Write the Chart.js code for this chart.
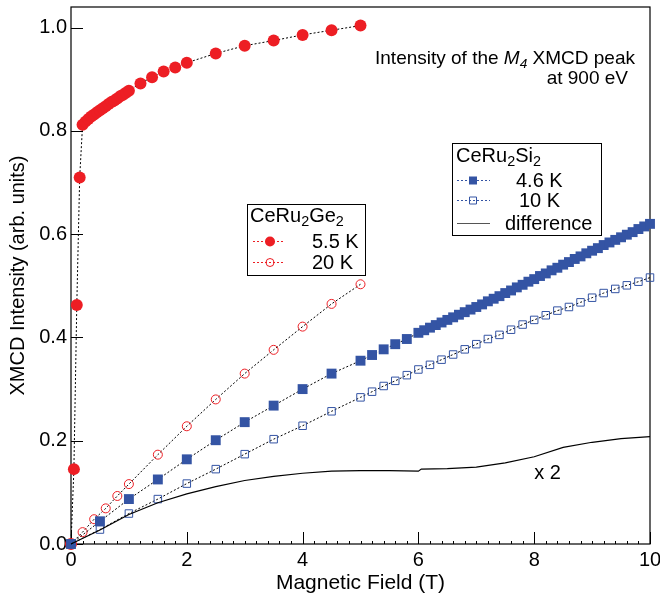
<!DOCTYPE html>
<html>
<head>
<meta charset="utf-8">
<script src="https://cdn.jsdelivr.net/npm/chart.js@4.4.0/dist/chart.umd.min.js"></script>
<style>
  html, body { margin: 0; padding: 0; background: #fff; }
  canvas { display: block; }
</style>
</head>
<body>
<canvas id="xmcdChart" width="660" height="599"></canvas>
<script>
const FONT = "'Liberation Sans', Arial, Helvetica, sans-serif";
const RED = "rgb(237,30,36)";
const BLUE = "rgb(52,84,164)";

// CeRu2Ge2, 5.5 K
const fieldGe55 = [0, 0.05, 0.1, 0.15, 0.2, 0.25, 0.3, 0.35, 0.4, 0.45, 0.5, 0.55, 0.6, 0.65, 0.7, 0.75,
  0.8, 0.85, 0.9, 0.95, 1.0, 1.2, 1.4, 1.6, 1.8, 2.0, 2.5, 3.0, 3.5, 4.0, 4.5, 5.0];
const ge55 = [0, 0.145, 0.463, 0.71, 0.812, 0.818, 0.823, 0.828, 0.832, 0.836, 0.840, 0.844, 0.848, 0.852, 0.856, 0.859,
  0.863, 0.867, 0.870, 0.874, 0.878, 0.892, 0.904, 0.915, 0.923, 0.932, 0.950, 0.965, 0.975, 0.986, 0.995, 1.004];

// CeRu2Ge2, 20 K
const fieldGe20 = [0, 0.2, 0.4, 0.6, 0.8, 1.0, 1.5, 2.0, 2.5, 3.0, 3.5, 4.0, 4.5, 5.0];
const ge20 = [0, 0.023, 0.048, 0.069, 0.093, 0.116, 0.173, 0.228, 0.280, 0.330, 0.376, 0.421, 0.465, 0.503];

// CeRu2Si2, 4.6 K
const fieldSi46 = [0, 0.5, 1.0, 1.5, 2.0, 2.5, 3.0, 3.5, 4.0, 4.5, 5.0, 5.2, 5.4, 5.6, 5.8, 6.0,
  6.1, 6.2, 6.3, 6.4, 6.5, 6.6, 6.7, 6.8, 6.9, 7.0, 7.1, 7.2, 7.3, 7.4, 7.5, 7.6, 7.7, 7.8, 7.9, 8.0,
  8.1, 8.2, 8.3, 8.4, 8.5, 8.6, 8.7, 8.8, 8.9, 9.0, 9.1, 9.2, 9.3, 9.4, 9.5, 9.6, 9.7, 9.8, 9.9, 10.0];
const si46 = [0, 0.044, 0.087, 0.125, 0.164, 0.201, 0.236, 0.268, 0.300, 0.330, 0.355, 0.366, 0.377, 0.387, 0.397, 0.409,
  0.414, 0.419, 0.424, 0.429, 0.434, 0.439, 0.444, 0.449, 0.454, 0.459, 0.464, 0.470, 0.475, 0.480, 0.486, 0.491, 0.497, 0.502, 0.508, 0.513,
  0.519, 0.524, 0.530, 0.535, 0.541, 0.546, 0.552, 0.557, 0.563, 0.568, 0.573, 0.579, 0.584, 0.589, 0.594, 0.599, 0.604, 0.610, 0.615, 0.620];

// CeRu2Si2, 10 K
const fieldSi10 = [0, 0.5, 1.0, 1.5, 2.0, 2.5, 3.0, 3.5, 4.0, 4.5, 5.0, 5.2, 5.4, 5.6, 5.8, 6.0,
  6.2, 6.4, 6.6, 6.8, 7.0, 7.2, 7.4, 7.6, 7.8, 8.0, 8.2, 8.4, 8.6, 8.8, 9.0, 9.2, 9.4, 9.6, 9.8, 10.0];
const si10 = [0, 0.028, 0.059, 0.087, 0.117, 0.145, 0.174, 0.203, 0.229, 0.257, 0.284, 0.295, 0.306, 0.316, 0.327, 0.338,
  0.347, 0.357, 0.367, 0.377, 0.387, 0.397, 0.405, 0.415, 0.425, 0.434, 0.443, 0.452, 0.459, 0.468, 0.477, 0.486, 0.494, 0.501, 0.508, 0.516];

// (4.6 K - 10 K) x 2
const fieldDiff = [0, 0.5, 1.0, 1.5, 2.0, 2.5, 3.0, 3.5, 4.0, 4.5, 5.0, 5.5, 6.0, 6.05, 6.5, 7.0, 7.5, 8.0, 8.5, 9.0, 9.5, 10.0];
const diff = [0, 0.027, 0.057, 0.080, 0.097, 0.111, 0.123, 0.131, 0.137, 0.141, 0.142, 0.142, 0.141, 0.145, 0.146, 0.149, 0.157, 0.169, 0.187, 0.197, 0.204, 0.208];

const xTicks = [0, 2, 4, 6, 8, 10];
const yTicks = [0, 0.2, 0.4, 0.6, 0.8, 1.0];

const toPoints = (xs, ys) => xs.map((x, i) => ({ x: x, y: ys[i] }));

// draws text made of runs, some subscript or italic
function richWidth(ctx, parts, size) {
  let w = 0;
  parts.forEach(p => {
    const s = p.sub ? size * 0.72 : size;
    ctx.font = (p.italic ? "italic " : "") + s + "px " + FONT;
    w += ctx.measureText(p.t).width;
  });
  return w;
}
function drawRich(ctx, x, y, parts, size) {
  ctx.textAlign = "left";
  ctx.textBaseline = "alphabetic";
  parts.forEach(p => {
    const s = p.sub ? size * 0.72 : size;
    ctx.font = (p.italic ? "italic " : "") + s + "px " + FONT;
    ctx.fillText(p.t, x, p.sub ? y + size * 0.22 : y);
    x += ctx.measureText(p.t).width;
  });
}

function marker(ctx, kind, x, y, r) {
  ctx.save();
  ctx.setLineDash([]);
  ctx.lineWidth = 1;
  ctx.beginPath();
  if (kind === "dot" || kind === "ring") {
    ctx.arc(x, y, r, 0, Math.PI * 2);
    ctx.fillStyle = RED;
    ctx.strokeStyle = RED;
    if (kind === "dot") ctx.fill(); else ctx.stroke();
  } else {
    ctx.rect(x - r, y - r, 2 * r, 2 * r);
    ctx.fillStyle = BLUE;
    ctx.strokeStyle = BLUE;
    if (kind === "square") ctx.fill(); else ctx.stroke();
  }
  ctx.restore();
}

function sampleLine(ctx, x1, x2, y, color, dashed) {
  ctx.save();
  ctx.strokeStyle = color;
  ctx.lineWidth = 1;
  ctx.setLineDash(dashed ? [2, 2] : []);
  ctx.beginPath();
  ctx.moveTo(x1, y);
  ctx.lineTo(x2, y);
  ctx.stroke();
  ctx.restore();
}

const framePlugin = {
  id: "frameTicks",
  beforeDatasetsDraw(chart) {
    const { ctx, chartArea: a, scales } = chart;
    ctx.save();
    ctx.strokeStyle = "#000";
    ctx.lineWidth = 1.2;
    ctx.strokeRect(a.left, a.top, a.right - a.left, a.bottom - a.top);
    ctx.lineWidth = 1;
    ctx.beginPath();
    xTicks.forEach(v => {
      const px = Math.round(scales.x.getPixelForValue(v)) + 0.5;
      ctx.moveTo(px, a.bottom);
      ctx.lineTo(px, a.bottom - 12);
    });
    for (let i = 0; i <= 50; i++) {
      const px = Math.round(scales.x.getPixelForValue(i * 0.2)) + 0.5;
      ctx.moveTo(px, a.bottom);
      ctx.lineTo(px, a.bottom - 3);
    }
    yTicks.forEach(v => {
      const py = Math.round(scales.y.getPixelForValue(v)) + 0.5;
      ctx.moveTo(a.left, py);
      ctx.lineTo(a.left + 12, py);
    });
    ctx.stroke();
    ctx.restore();
  },
  afterDatasetsDraw(chart) {
    const { ctx, chartArea: a, scales } = chart;
    ctx.save();
    ctx.fillStyle = "#000";

    // note in the upper right corner
    const line1 = [{ t: "Intensity of the " }, { t: "M", italic: true }, { t: "4", sub: true, italic: true }, { t: " XMCD peak" }];
    const w1 = richWidth(ctx, line1, 19);
    drawRich(ctx, a.right - 15 - w1, a.top + 57, line1, 19);
    const line2 = [{ t: "at 900 eV" }];
    const w2 = richWidth(ctx, line2, 19);
    drawRich(ctx, a.right - 22 - w2, a.top + 77, line2, 19);

    // CeRu2Ge2 legend
    let bx = a.left + 176, by = a.top + 197;
    ctx.fillStyle = "#fff";
    ctx.fillRect(bx, by, 118, 71);
    ctx.strokeStyle = "#000";
    ctx.lineWidth = 1;
    ctx.strokeRect(bx + 0.5, by + 0.5, 118, 71);
    ctx.fillStyle = "#000";
    drawRich(ctx, bx + 3, by + 18, [{ t: "CeRu" }, { t: "2", sub: true }, { t: "Ge" }, { t: "2", sub: true }], 20);
    sampleLine(ctx, bx + 6, bx + 36, by + 37.5, RED, true);
    marker(ctx, "dot", bx + 23, by + 37.5, 5);
    drawRich(ctx, bx + 65, by + 44, [{ t: "5.5 K" }], 20);
    sampleLine(ctx, bx + 6, bx + 36, by + 58.5, RED, true);
    marker(ctx, "ring", bx + 23, by + 58.5, 4);
    drawRich(ctx, bx + 65, by + 65, [{ t: "20 K" }], 20);

    // CeRu2Si2 legend
    bx = a.left + 381; by = a.top + 136;
    ctx.fillStyle = "#fff";
    ctx.fillRect(bx, by, 149, 92);
    ctx.strokeRect(bx + 0.5, by + 0.5, 149, 92);
    ctx.fillStyle = "#000";
    drawRich(ctx, bx + 4, by + 19, [{ t: "CeRu" }, { t: "2", sub: true }, { t: "Si" }, { t: "2", sub: true }], 20);
    sampleLine(ctx, bx + 5, bx + 38, by + 37.5, BLUE, true);
    marker(ctx, "square", bx + 21, by + 37.5, 4);
    drawRich(ctx, bx + 64, by + 44, [{ t: "4.6 K" }], 20);
    sampleLine(ctx, bx + 5, bx + 38, by + 57.5, BLUE, true);
    marker(ctx, "box", bx + 21, by + 57.5, 3.5);
    drawRich(ctx, bx + 67, by + 64, [{ t: "10 K" }], 20);
    sampleLine(ctx, bx + 5, bx + 38, by + 80.5, "#555", false);
    drawRich(ctx, bx + 53, by + 87, [{ t: "difference" }], 20);

    // scale factor of the difference curve
    drawRich(ctx, scales.x.getPixelForValue(8.0), scales.y.getPixelForValue(0.125), [{ t: "x 2" }], 20);
    ctx.restore();
  }
};

const dotted = { borderColor: "#000", borderWidth: 1, borderDash: [2, 2], showLine: true, fill: false, clip: false };

new Chart(document.getElementById("xmcdChart"), {
  type: "scatter",
  data: {
    datasets: [
      {
        label: "difference",
        data: toPoints(fieldDiff, diff),
        showLine: true, borderColor: "#000", borderWidth: 1.2, pointRadius: 0, fill: false, clip: false
      },
      Object.assign({}, dotted, {
        label: "10 K",
        data: toPoints(fieldSi10, si10),
        pointStyle: "rect", pointRadius: 5.3, pointBorderWidth: 1,
        pointBorderColor: BLUE, pointBackgroundColor: "rgba(0,0,0,0)"
      }),
      Object.assign({}, dotted, {
        label: "4.6 K",
        data: toPoints(fieldSi46, si46),
        pointStyle: "rect", pointRadius: 7, pointBorderWidth: 0,
        pointBorderColor: BLUE, pointBackgroundColor: BLUE
      }),
      Object.assign({}, dotted, {
        label: "20 K",
        data: toPoints(fieldGe20, ge20),
        pointStyle: "circle", pointRadius: 4.5, pointBorderWidth: 1,
        pointBorderColor: RED, pointBackgroundColor: "rgba(0,0,0,0)"
      }),
      Object.assign({}, dotted, {
        label: "5.5 K",
        data: toPoints(fieldGe55, ge55),
        pointStyle: "circle", pointRadius: 6, pointBorderWidth: 0,
        pointBorderColor: RED, pointBackgroundColor: RED
      })
    ]
  },
  options: {
    responsive: false,
    animation: false,
    layout: { padding: { top: 5, right: 10, left: 0, bottom: 0 } },
    plugins: { legend: { display: false }, tooltip: { enabled: false } },
    scales: {
      x: {
        type: "linear", min: 0, max: 10,
        afterFit: s => { s.height = 55; s.paddingLeft = 0; s.paddingRight = 0; },
        grid: { display: false, drawTicks: false },
        border: { display: false },
        ticks: { stepSize: 2, includeBounds: false, color: "#000", padding: 4, maxRotation: 0,
          font: { family: FONT, size: 20 } },
        title: { display: true, text: "Magnetic Field (T)", color: "#000",
          font: { family: FONT, size: 21 }, padding: { top: 0, bottom: 3 } }
      },
      y: {
        type: "linear", min: 0, max: 1.04,
        afterFit: s => { s.width = 71; s.paddingTop = 0; s.paddingBottom = 0; },
        grid: { display: false, drawTicks: false },
        border: { display: false },
        ticks: { stepSize: 0.2, includeBounds: false, color: "#000", padding: 4,
          font: { family: FONT, size: 20 }, callback: v => v.toFixed(1) },
        title: { display: true, text: "XMCD Intensity (arb. units)", color: "#000",
          font: { family: FONT, size: 20 }, padding: { top: 6, bottom: 0 } }
      }
    }
  },
  plugins: [framePlugin]
});
</script>
</body>
</html>
